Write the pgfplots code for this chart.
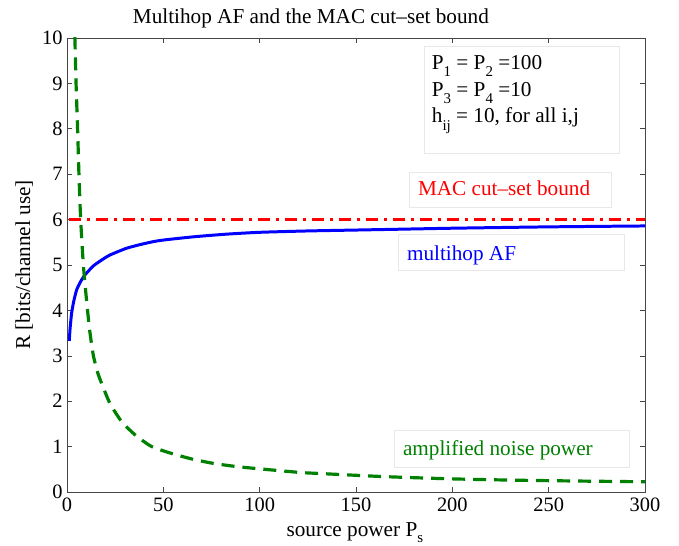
\documentclass[border=0pt]{standalone}
\usepackage{fontspec}
\setmainfont{Liberation Serif}
\usepackage{pgfplots}
\pgfplotsset{compat=1.18}
\definecolor{mgreen}{RGB}{0,128,0}
\definecolor{boxgray}{RGB}{232,232,232}
\definecolor{axgray}{RGB}{70,70,70}
\newcommand\fs{\fontsize{21.3}{25}\selectfont}
\newcommand\sub[1]{\raisebox{-7.5bp}{\fontsize{15}{15}\selectfont #1}}
\begin{document}
\begin{tikzpicture}
\begin{axis}[
  scale only axis, width=578bp, height=454bp,
  xmin=0, xmax=300, ymin=0, ymax=10,
  xtick={0,50,...,300}, ytick={0,1,...,10},
  tick align=inside, major tick length=5bp,
  axis line style={draw=axgray, line width=0.8pt},
  every tick/.style={draw=axgray, line width=0.6pt},
  tick label style={font=\fontsize{20.5}{24}\selectfont},
  /pgf/number format/assume math mode=true,
  xticklabel style={yshift=-2bp},
  yticklabel style={xshift=-1bp},
  clip mode=individual,
]
\coordinate (bl) at (rel axis cs:0,0);
\coordinate (tr) at (rel axis cs:1,1);
% text boxes
\draw[boxgray, fill=white, line width=0.6pt] (rel axis cs:0.619,0.982) rectangle (rel axis cs:0.955,0.747);
\draw[boxgray, fill=white, line width=0.6pt] (rel axis cs:0.592,0.704) rectangle (rel axis cs:0.941,0.626);
\draw[boxgray, fill=white, line width=0.6pt] (rel axis cs:0.573,0.568) rectangle (rel axis cs:0.965,0.489);
\draw[boxgray, fill=white, line width=0.6pt] (rel axis cs:0.566,0.137) rectangle (rel axis cs:0.972,0.055);

\addplot[red, line width=3pt, dash pattern=on 12bp off 6bp on 3bp off 6bp] coordinates {(1,6) (300,6)};

\addplot[blue, line width=3pt, smooth, tension=0.4] coordinates {
(1.2,3.33) (1.6,3.6) (2.4,3.94) (3.5,4.2) (5,4.45) (7,4.63) (9.3,4.78)
(13.7,4.98) (18,5.11) (22.3,5.22) (31,5.37) (40,5.47) (48.3,5.54)
(65.5,5.62) (83,5.68) (100,5.72) (125,5.75) (150,5.77) (175,5.79)
(200,5.81) (250,5.84) (300,5.86)};

\addplot[mgreen, line width=3.2pt, smooth, tension=0.4, dash pattern=on 13bp off 8bp] coordinates {
(3.9,10.5) (4.1,10) (4.7,9) (5.5,8) (6.2,7) (7.1,6) (8.5,5) (10.2,4.2)
(11.8,3.55) (13.7,3.0) (16,2.62) (18,2.39) (22.3,1.95) (28.4,1.55)
(35.3,1.26) (44,1.0) (55,0.84) (65.5,0.72) (76,0.63) (88,0.56)
(100,0.51) (121,0.43) (130,0.41) (164,0.34) (199,0.29) (233,0.26)
(268,0.24) (300,0.225)};

% annotations
\node[anchor=base west, inner sep=0pt, font=\fs] at (rel axis cs:0.631,0.931) {P\sub{1} = P\sub{2} =100};
\node[anchor=base west, inner sep=0pt, font=\fs] at (rel axis cs:0.631,0.872) {P\sub{3} = P\sub{4} =10};
\node[anchor=base west, inner sep=0pt, font=\fs] at (rel axis cs:0.631,0.813) {h\sub{ij} = 10, for all i,j};
\node[anchor=base west, inner sep=0pt, font=\fs, text=red] at (rel axis cs:0.607,0.653) {MAC cut\textendash set bound};
\node[anchor=base west, inner sep=0pt, font=\fs, text=blue] at (rel axis cs:0.588,0.511) {multihop AF};
\node[anchor=base west, inner sep=0pt, font=\fs, text=mgreen] at (rel axis cs:0.581,0.081) {amplified noise power};
% title and labels
\node[anchor=base, inner sep=0pt, font=\fs] at (rel axis cs:0.422,1.032) {Multihop AF and the MAC cut\textendash set bound};
\node[anchor=base, inner sep=0pt, font=\fs] at (rel axis cs:0.498,-0.098) {source power P\raisebox{-6bp}{\fontsize{15}{15}\selectfont s}};
\node[anchor=base, inner sep=0pt, font=\fs, rotate=90] at (rel axis cs:-0.064,0.5) {R [bits/channel use]};
\end{axis}
\path ([xshift=-67bp,yshift=-54bp]bl) rectangle ([xshift=34bp,yshift=38bp]tr);
\end{tikzpicture}
\end{document}
